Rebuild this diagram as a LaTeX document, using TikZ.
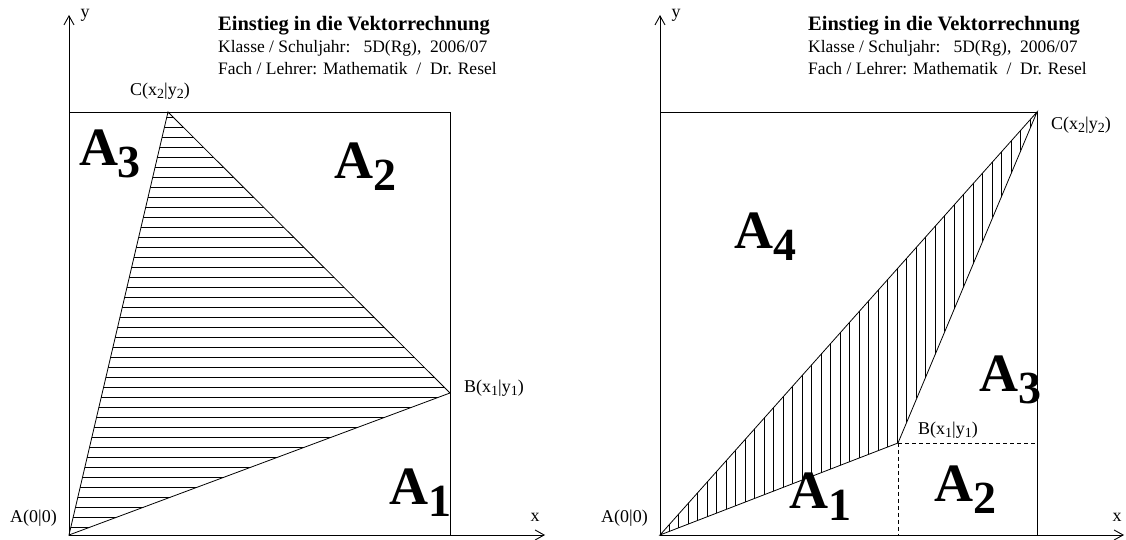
\documentclass[tikz,border=0pt]{standalone}
\usepackage{fontspec}
\setmainfont{Liberation Serif}
\usetikzlibrary{arrows.meta, positioning}
\newcommand{\areaname}[1]{{\fontsize{54}{54}\selectfont\bfseries A\raisebox{-12pt}{\fontsize{46}{46}\selectfont #1}}}
\newcommand{\idx}[1]{\raisebox{-3pt}{\fontsize{14}{14}\selectfont #1}}

\begin{document}
\begin{tikzpicture}[x=1pt, y=1pt,
  axis/.style={line width=0.9pt, -{Straight Barb[length=9pt, width=10pt]}},
  frame/.style={line width=0.8pt},
  hatch/.style={line width=0.5pt},
  helpline/.style={line width=0.7pt, dash pattern=on 4pt off 3pt},
  pointlabel/.style={font=\fontsize{18}{18}\selectfont, inner sep=0pt},
  arealabel/.style={inner sep=0pt},
  header/.style={align=left, inner sep=0pt, anchor=north west, font=\fontsize{17.5}{22}\selectfont}]
  \useasboundingbox (0,0) rectangle (1126,540);

  % left picture
  \coordinate (lA) at (69,5);
  \coordinate (lB) at (450,147);
  \coordinate (lC) at (168,428);
  \coordinate (lTL) at (69,428);
  \coordinate (lTR) at (450,428);
  \coordinate (lBR) at (450,5);
  \coordinate (lX) at (545,5);
  \coordinate (lY) at (69,525);
  \begin{scope}
    \clip (lA) -- (lB) -- (lC) -- cycle;
    \foreach \h in {13,23,...,423}
      \draw[hatch] (60,\h) -- (460,\h);
  \end{scope}
  \draw[frame] (lTL) -- (lTR) -- (lBR);
  \draw[frame] (lA) -- (lB) -- (lC) -- cycle;
  \draw[axis] (lA) -- (lX);
  \draw[axis] (lA) -- (lY);
  \node[pointlabel] (lxlabel) at (535,23) {x};
  \node[pointlabel] (lylabel) at (85,525) {y};
  \node[pointlabel, anchor=east] (lAlabel) at (57,22) {A(0|0)};
  \node[pointlabel, anchor=west] (lBlabel) at (464,152) {B(x\idx{1}|y\idx{1})};
  \node[pointlabel] (lClabel) at (160,449) {C(x\idx{2}|y\idx{2})};
  \node[arealabel] (lA1) at (420,47) {\areaname{1}};
  \node[arealabel] (lA2) at (365,373) {\areaname{2}};
  \node[arealabel] (lA3) at (110,386) {\areaname{3}};
  \node[header] (lhead) at (218,524) {{\fontsize{20.5}{22}\selectfont\bfseries Einstieg in die Vektorrechnung}\\
    Klasse / Schuljahr:\ \ \ 5D(Rg),\ \ 2006/07\\
    Fach / Lehrer: Mathematik\ \ /\ \ Dr. Resel};

  % right picture
  \coordinate (rA) at (660,5);
  \coordinate (rB) at (898,97);
  \coordinate (rC) at (1037,428);
  \coordinate (rTL) at (660,428);
  \coordinate (rBR) at (1037,5);
  \coordinate (rBx) at (1037,97);
  \coordinate (rBy) at (898,5);
  \coordinate (rX) at (1124,5);
  \coordinate (rY) at (660,525);
  \begin{scope}
    \clip (rA) -- (rB) -- (rC) -- cycle;
    \foreach \v in {669,678.5,...,1040}
      \draw[hatch] (\v,0) -- (\v,430);
  \end{scope}
  \draw[frame] (rTL) -- (rC) -- (rBR);
  \draw[frame] (rA) -- (rB) -- (rC) -- cycle;
  \draw[helpline] (rB) -- (rBx);
  \draw[helpline] (rB) -- (rBy);
  \draw[axis] (rA) -- (rX);
  \draw[axis] (rA) -- (rY);
  \node[pointlabel] (rxlabel) at (1117,23) {x};
  \node[pointlabel] (rylabel) at (676,525) {y};
  \node[pointlabel, anchor=east] (rAlabel) at (648,22) {A(0|0)};
  \node[pointlabel] (rBlabel) at (948,110) {B(x\idx{1}|y\idx{1})};
  \node[pointlabel, anchor=west] (rClabel) at (1051,415) {C(x\idx{2}|y\idx{2})};
  \node[arealabel] (rA1) at (820,43) {\areaname{1}};
  \node[arealabel] (rA2) at (965,50) {\areaname{2}};
  \node[arealabel] (rA3) at (1010,160) {\areaname{3}};
  \node[arealabel] (rA4) at (765,303) {\areaname{4}};
  \node[header] (rhead) at (808,524) {{\fontsize{20.5}{22}\selectfont\bfseries Einstieg in die Vektorrechnung}\\
    Klasse / Schuljahr:\ \ \ 5D(Rg),\ \ 2006/07\\
    Fach / Lehrer: Mathematik\ \ /\ \ Dr. Resel};
\end{tikzpicture}
\end{document}
